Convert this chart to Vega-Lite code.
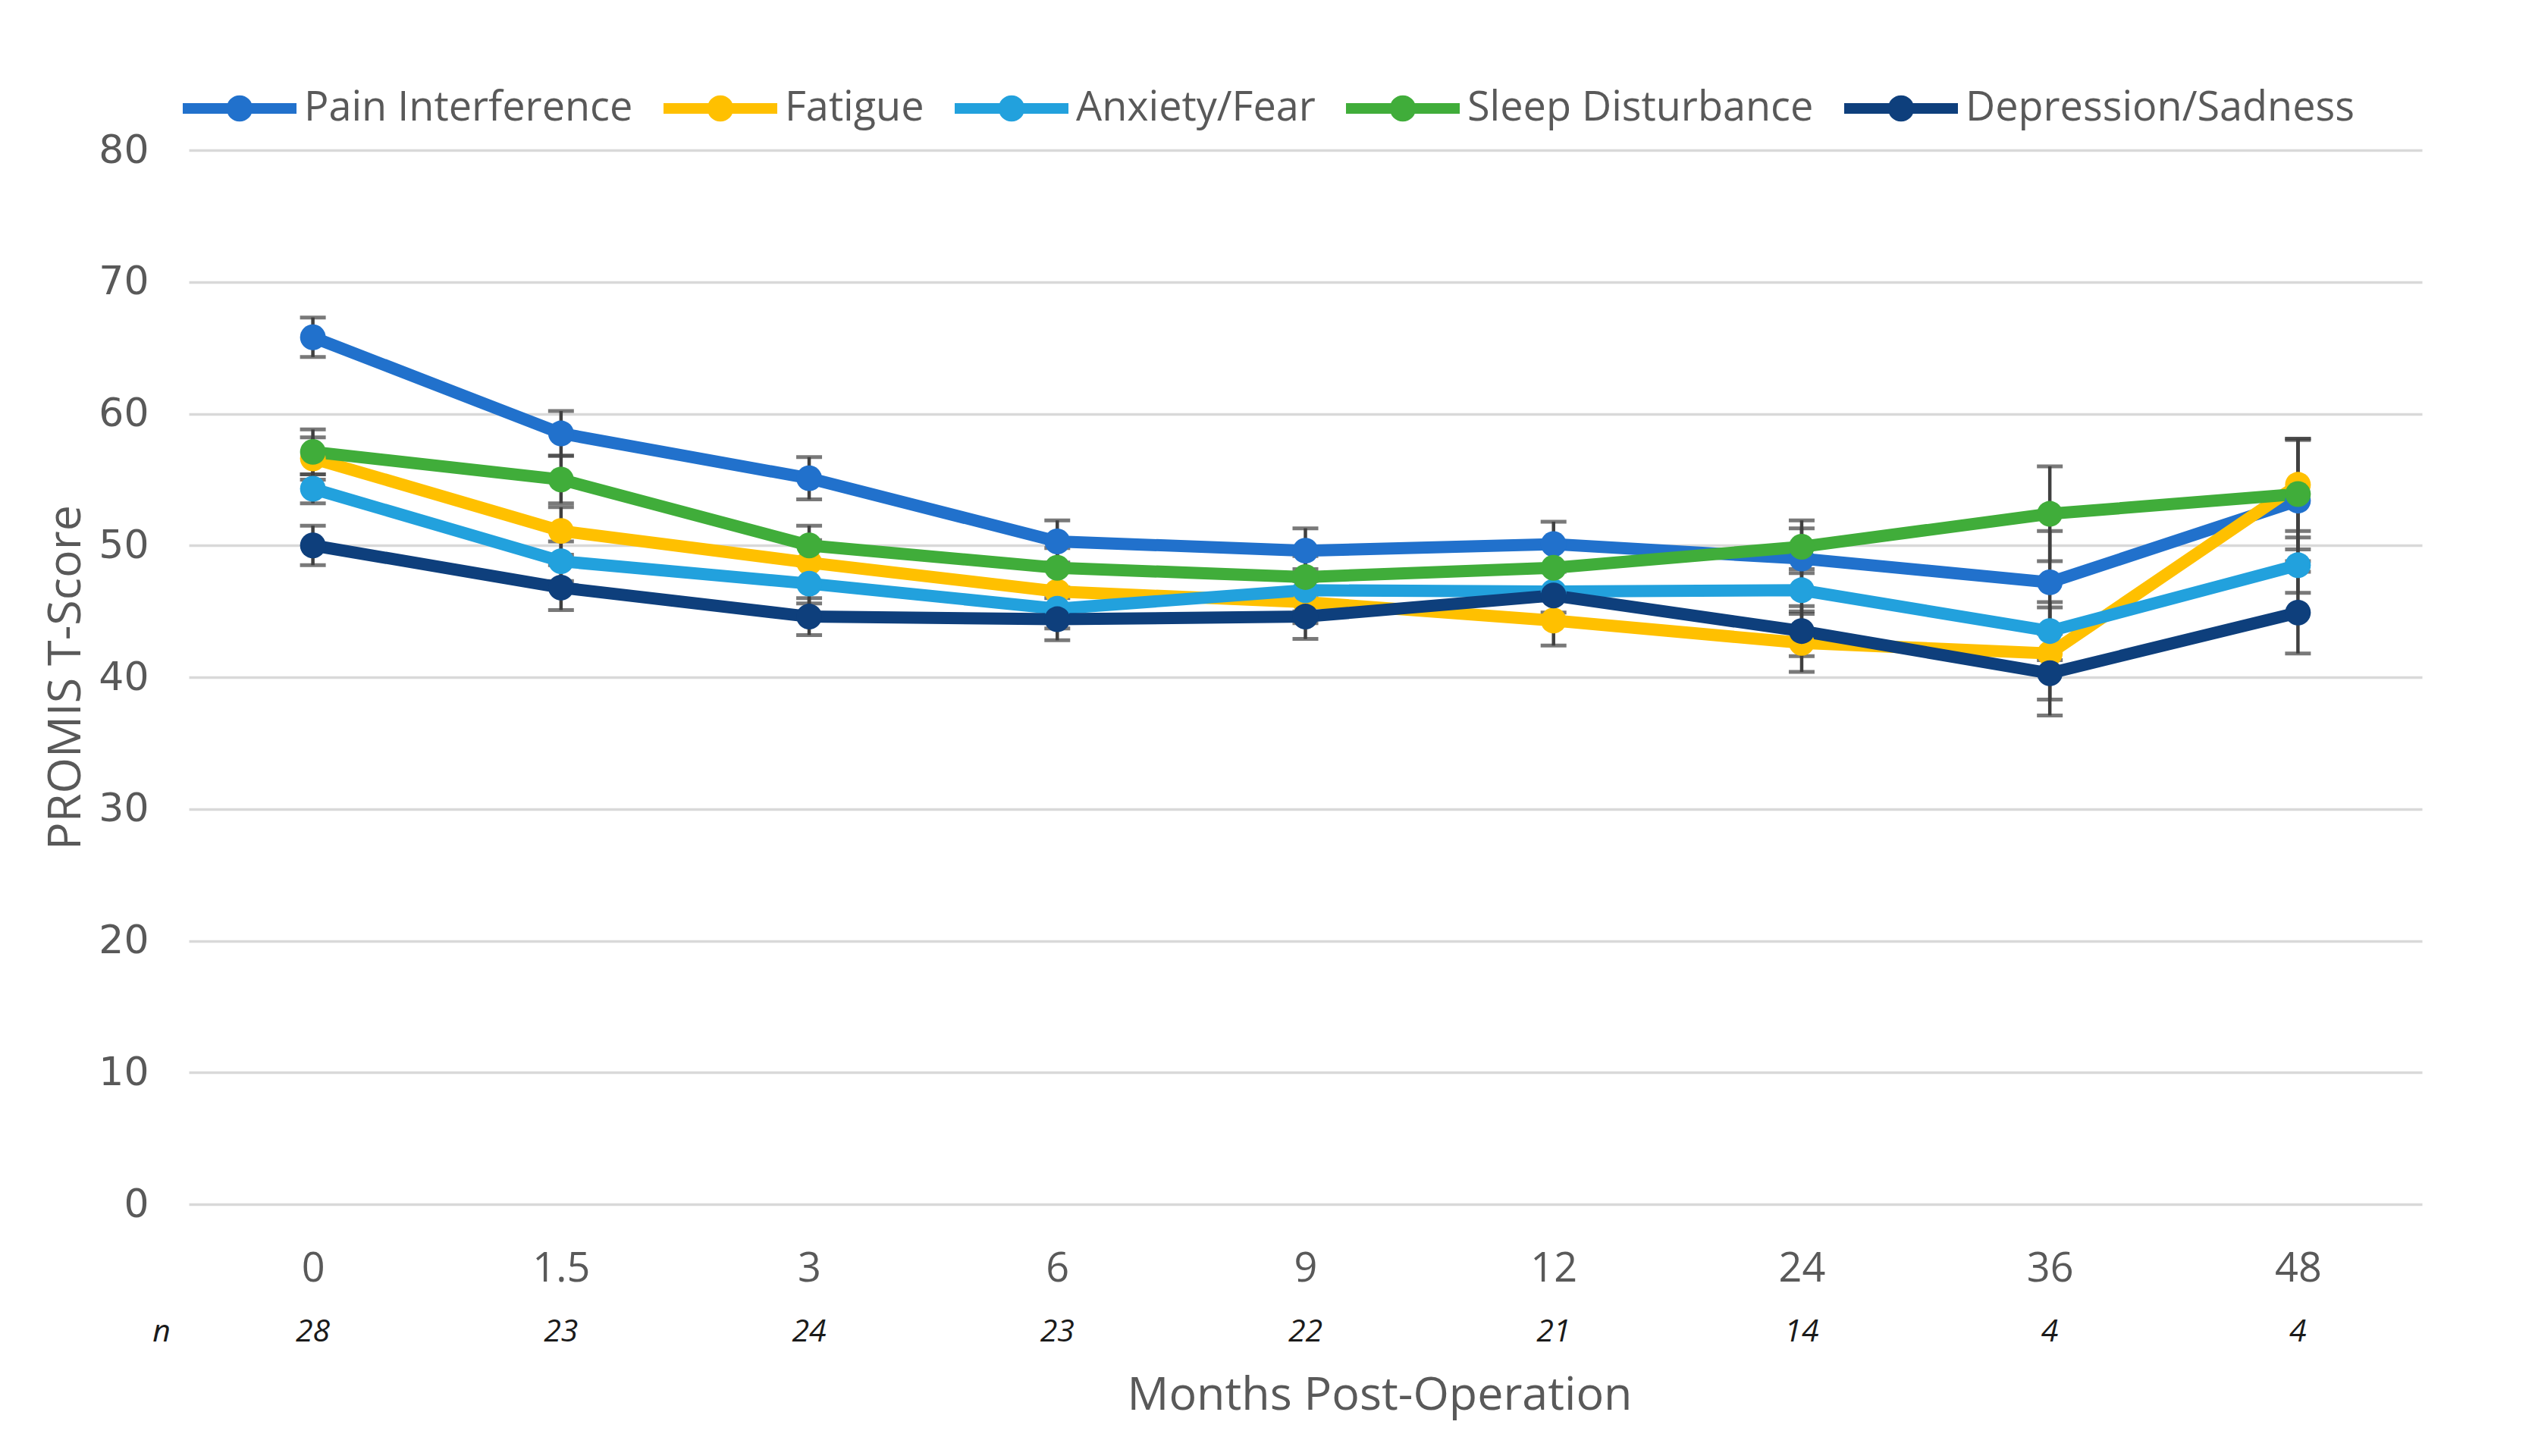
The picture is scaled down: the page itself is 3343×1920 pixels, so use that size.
{
  "$schema": "https://vega.github.io/schema/vega-lite/v6.json",
  "autosize": "none",
  "width": 2945,
  "height": 1390,
  "padding": {"left": 249, "top": 198, "right": 149, "bottom": 332},
  "background": "white",
  "config": {
    "font": "Open Sans",
    "view": {"stroke": null},
    "axis": {"labelFont": "Open Sans", "titleFont": "Open Sans", "labelColor": "#595959", "titleColor": "#595959", "titleFontWeight": "normal"}
  },
  "datasets": {
    "scores": [
      {"series": "Pain Interference", "month": "0", "score": 65.8, "se": 1.5},
      {"series": "Pain Interference", "month": "1.5", "score": 58.5, "se": 1.7},
      {"series": "Pain Interference", "month": "3", "score": 55.1, "se": 1.6},
      {"series": "Pain Interference", "month": "6", "score": 50.3, "se": 1.6},
      {"series": "Pain Interference", "month": "9", "score": 49.6, "se": 1.7},
      {"series": "Pain Interference", "month": "12", "score": 50.1, "se": 1.7},
      {"series": "Pain Interference", "month": "24", "score": 49.0, "se": 2.3},
      {"series": "Pain Interference", "month": "36", "score": 47.2, "se": 3.9},
      {"series": "Pain Interference", "month": "48", "score": 53.4, "se": 4.6},
      {"series": "Fatigue", "month": "0", "score": 56.6, "se": 1.6},
      {"series": "Fatigue", "month": "1.5", "score": 51.1, "se": 1.8},
      {"series": "Fatigue", "month": "3", "score": 48.7, "se": 1.7},
      {"series": "Fatigue", "month": "6", "score": 46.5, "se": 1.6},
      {"series": "Fatigue", "month": "9", "score": 45.7, "se": 1.6},
      {"series": "Fatigue", "month": "12", "score": 44.3, "se": 1.9},
      {"series": "Fatigue", "month": "24", "score": 42.6, "se": 2.2},
      {"series": "Fatigue", "month": "36", "score": 41.8, "se": 3.5},
      {"series": "Fatigue", "month": "48", "score": 54.6, "se": 3.5},
      {"series": "Anxiety/Fear", "month": "0", "score": 54.3, "se": 1.1},
      {"series": "Anxiety/Fear", "month": "1.5", "score": 48.8, "se": 1.5},
      {"series": "Anxiety/Fear", "month": "3", "score": 47.1, "se": 1.5},
      {"series": "Anxiety/Fear", "month": "6", "score": 45.2, "se": 1.5},
      {"series": "Anxiety/Fear", "month": "9", "score": 46.6, "se": 1.6},
      {"series": "Anxiety/Fear", "month": "12", "score": 46.5, "se": 1.6},
      {"series": "Anxiety/Fear", "month": "24", "score": 46.6, "se": 1.6},
      {"series": "Anxiety/Fear", "month": "36", "score": 43.5, "se": 2.2},
      {"series": "Anxiety/Fear", "month": "48", "score": 48.5, "se": 2.1},
      {"series": "Sleep Disturbance", "month": "0", "score": 57.1, "se": 1.7},
      {"series": "Sleep Disturbance", "month": "1.5", "score": 55.0, "se": 1.8},
      {"series": "Sleep Disturbance", "month": "3", "score": 50.0, "se": 1.5},
      {"series": "Sleep Disturbance", "month": "6", "score": 48.3, "se": 1.5},
      {"series": "Sleep Disturbance", "month": "9", "score": 47.6, "se": 1.6},
      {"series": "Sleep Disturbance", "month": "12", "score": 48.3, "se": 1.6},
      {"series": "Sleep Disturbance", "month": "24", "score": 49.9, "se": 2.0},
      {"series": "Sleep Disturbance", "month": "36", "score": 52.4, "se": 3.6},
      {"series": "Sleep Disturbance", "month": "48", "score": 53.9, "se": 4.2},
      {"series": "Depression/Sadness", "month": "0", "score": 50.0, "se": 1.5},
      {"series": "Depression/Sadness", "month": "1.5", "score": 46.8, "se": 1.7},
      {"series": "Depression/Sadness", "month": "3", "score": 44.6, "se": 1.4},
      {"series": "Depression/Sadness", "month": "6", "score": 44.4, "se": 1.6},
      {"series": "Depression/Sadness", "month": "9", "score": 44.6, "se": 1.7},
      {"series": "Depression/Sadness", "month": "12", "score": 46.2, "se": 1.8},
      {"series": "Depression/Sadness", "month": "24", "score": 43.5, "se": 1.9},
      {"series": "Depression/Sadness", "month": "36", "score": 40.3, "se": 3.2},
      {"series": "Depression/Sadness", "month": "48", "score": 44.9, "se": 3.1}
    ],
    "counts": [
      {"month": "0", "n": "28"},
      {"month": "1.5", "n": "23"},
      {"month": "3", "n": "24"},
      {"month": "6", "n": "23"},
      {"month": "9", "n": "22"},
      {"month": "12", "n": "21"},
      {"month": "24", "n": "14"},
      {"month": "36", "n": "4"},
      {"month": "48", "n": "4"}
    ]
  },
  "layer": [
    {
      "data": {"name": "scores"},
      "mark": {"type": "errorbar", "color": "#404040", "ticks": {"size": 34, "thickness": 5, "color": "#404040"}, "rule": {"strokeWidth": 4.5, "color": "#404040"}},
      "encoding": {
        "x": {"field": "month", "type": "ordinal", "sort": ["0", "1.5", "3", "6", "9", "12", "24", "36", "48"], "scale": {"type": "point", "padding": 0.5},
          "axis": {"title": "Months Post-Operation", "labelAngle": 0, "labelFontSize": 54, "labelPadding": 58, "ticks": false, "tickSize": 0, "domain": false, "grid": false, "titleFontSize": 61, "titlePadding": 110, "titleX": 1570, "titleAnchor": null, "titleAlign": "center"}},
        "y": {"field": "score", "type": "quantitative", "scale": {"domain": [0, 80]},
          "axis": {"title": "PROMIS T-Score", "values": [0, 10, 20, 30, 40, 50, 60, 70, 80], "labelFont": "DejaVu Sans", "labelFontSize": 52, "labelPadding": 53, "ticks": false, "tickSize": 0, "domain": false, "grid": true, "gridColor": "#D9D9D9", "gridWidth": 3.5, "titleFontSize": 61, "titlePadding": 11}},
        "yError": {"field": "se"},
        "detail": {"field": "series"}
      }
    },
    {
      "data": {"name": "scores"},
      "mark": {"type": "line", "strokeWidth": 16},
      "encoding": {
        "x": {"field": "month", "type": "ordinal", "sort": ["0", "1.5", "3", "6", "9", "12", "24", "36", "48"]},
        "y": {"field": "score", "type": "quantitative"},
        "color": {"field": "series", "type": "nominal",
          "scale": {"domain": ["Pain Interference", "Fatigue", "Anxiety/Fear", "Sleep Disturbance", "Depression/Sadness"], "range": ["#2171CC", "#FFC000", "#22A1DD", "#40AD3A", "#0E3F7C"]},
          "legend": {"title": null, "orient": "none", "direction": "horizontal", "legendX": -8, "legendY": -130, "padding": 0,
            "symbolType": "M-1,-0.093H1V0.093H-1Z M-0.23,0A0.23,0.23,0,1,1,0.23,0A0.23,0.23,0,1,1,-0.23,0Z",
            "symbolSize": 22500, "symbolStrokeWidth": 0, "symbolOpacity": 1, "labelFontSize": 54, "labelColor": "#595959", "labelFont": "Open Sans", "labelOffset": 10, "columnPadding": 40, "labelLimit": 0,
            "encode": {"symbols": {"update": {"fill": {"scale": "color", "field": "value"}, "stroke": {"value": "transparent"}}}}}
        }
      }
    },
    {
      "data": {"name": "scores"},
      "mark": {"type": "point", "filled": true, "size": 1150, "opacity": 1},
      "encoding": {
        "x": {"field": "month", "type": "ordinal", "sort": ["0", "1.5", "3", "6", "9", "12", "24", "36", "48"]},
        "y": {"field": "score", "type": "quantitative"},
        "color": {"field": "series", "type": "nominal"}
      }
    },
    {
      "data": {"name": "counts"},
      "mark": {"type": "text", "fontStyle": "italic", "fontSize": 41, "color": "#1a1a1a", "baseline": "middle", "align": "center"},
      "encoding": {
        "x": {"field": "month", "type": "ordinal", "sort": ["0", "1.5", "3", "6", "9", "12", "24", "36", "48"]},
        "y": {"value": 1559},
        "text": {"field": "n"}
      }
    },
    {
      "data": {"values": [{"label": "n"}]},
      "mark": {"type": "text", "fontStyle": "italic", "fontSize": 41, "color": "#1a1a1a", "baseline": "middle", "align": "center"},
      "encoding": {
        "x": {"value": -36},
        "y": {"value": 1559},
        "text": {"field": "label"}
      }
    }
  ]
}
